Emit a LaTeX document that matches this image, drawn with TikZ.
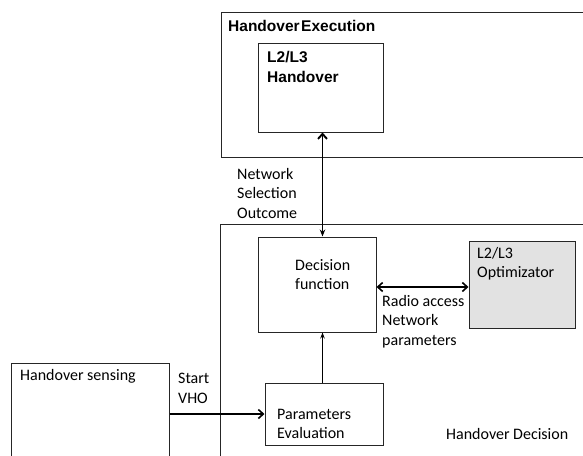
\documentclass[tikz,border=0pt]{standalone}
\usepackage{fontspec}
\setmainfont{Carlito}
\newfontfamily\headfont{Liberation Sans}
\usetikzlibrary{arrows.meta}
\definecolor{optfill}{RGB}{226,226,226}
\begin{document}
\begin{tikzpicture}[x=1pt,y=-1pt,
  box/.style={draw=black!85, line width=1pt, rectangle, inner sep=0pt},
  txt/.style={anchor=base west, inner sep=0pt, font=\fontsize{16}{19.5}\selectfont, text=black},
  head/.style={anchor=base west, inner sep=0pt, font=\headfont\bfseries\fontsize{15.5}{20}\selectfont},
  link/.style={draw=black, line width=1.6pt},
  thinlink/.style={draw=black, line width=1pt}]
\useasboundingbox (0,0) rectangle (583,455);
\clip (0,0) rectangle (583,455);

% outer stage boxes (open towards the page edges)
\node[box, minimum width=379pt, minimum height=145pt] (exec) at (410.5,84.5) {};
\node[box, minimum width=379.5pt, minimum height=251pt] (decbox) at (410.25,349.5) {};
\node[box, minimum width=158pt, minimum height=112pt] (sen) at (90,419) {};

% inner function blocks
\node[box, minimum width=125pt, minimum height=89pt] (l2h) at (320.5,87.5) {};
\node[box, minimum width=118pt, minimum height=95pt] (dec) at (317,284.5) {};
\node[box, fill=optfill, minimum width=106pt, minimum height=87pt] (opt) at (522,284.5) {};
\node[box, minimum width=118pt, minimum height=62pt] (par) at (324,414) {};

% labels
\node[head] (execlbl) at (228,31) {Handover\hspace{1.5pt}Execution};
\node[head] (l2hlbl) at (267,62) {\vtop{\hbox{L2/L3}\hbox{Handover}}};
\node[txt] (nso) at (237,179) {\vtop{\hbox{Network}\hbox{Selection}\hbox{Outcome}}};
\node[txt] (declbl) at (295,270) {\vtop{\hbox{Decision}\hbox{function}}};
\node[txt] (optlbl) at (477,258) {\vtop{\hbox{L2/L3}\hbox{Optimizator}}};
\node[txt] (ran) at (382,306) {\vtop{\hbox{Radio access}\hbox{Network}\hbox{parameters}}};
\node[txt] (senlbl) at (20,380) {Handover sensing};
\node[txt] (vho) at (178,383.5) {\vtop{\hbox{Start}\hbox{VHO}}};
\node[txt] (parlbl) at (277,419) {\vtop{\hbox{Parameters}\hbox{Evaluation}}};
\node[txt] (declbl2) at (446,439) {Handover Decision};

% connectors
\coordinate (vx) at (322.5,0);
\coordinate (hy) at (0,287);
\draw[link, line width=1.9pt, {Stealth[length=7pt,width=5.5pt]}-{Straight Barb[length=5pt,width=9pt]}]
  (vx |- dec.north) -- (vx |- l2h.south);
\draw[link, {Straight Barb[length=5pt,width=9pt]}-{Straight Barb[length=5pt,width=9pt]}]
  (dec.east |- hy) -- (opt.west |- hy);
\draw[link, -{Straight Barb[length=5pt,width=9pt]}]
  (sen.east |- par.west) -- (par.west);
\draw[thinlink, -{Stealth[length=6pt,width=4.5pt]}]
  (vx |- par.north) -- (vx |- dec.south);
\end{tikzpicture}
\end{document}
